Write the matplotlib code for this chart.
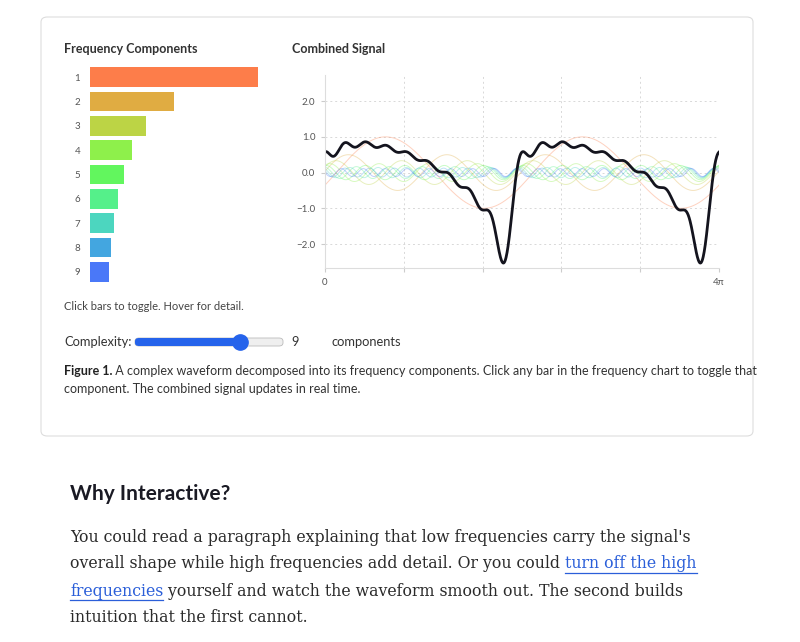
import numpy as np
import matplotlib
matplotlib.use("Agg")
import matplotlib.pyplot as plt
from matplotlib.patches import FancyBboxPatch
from matplotlib.lines import Line2D

components = [1, 2, 3, 4, 5, 6, 7, 8, 9]
amplitudes = [1.0, 0.5, 0.333, 0.25, 0.2, 0.167, 0.143, 0.125, 0.111]
# phase of each harmonic, radians
phases = [-0.36, 0.08, 0.52, 0.96, 1.40, 1.84, 2.28, 2.72, 3.16]
colors = ["#fd7d4a", "#e0ac42", "#bcd445", "#8ef04b", "#62f65e",
          "#55f08a", "#4cd6bf", "#43a6e0", "#4a78f8"]
y_ticks = [-2.0, -1.0, 0.0, 1.0, 2.0]
y_labels = ["\u22122.0", "\u22121.0", "0.0", "1.0", "2.0"]

W, H = 800, 642
plt.rcParams['font.family'] = ['Lato', 'DejaVu Sans']
fig = plt.figure(figsize=(8, 6.42), dpi=100)
renderer = fig.canvas.get_renderer()

def fx(x): return x / W
def fy(y): return 1 - y / H

def chain(x, y, parts):
    # draw text pieces one after another on a line, px coords
    for s, kw, underline in parts:
        t = fig.text(fx(x), fy(y), s, va="center", **kw)
        bb = t.get_window_extent(renderer)
        if underline:
            fig.add_artist(Line2D([fx(x), fx(x + bb.width)], [fy(y + 9), fy(y + 9)],
                                  color=kw["color"], lw=0.9, transform=fig.transFigure))
        x += bb.width

# card
fig.patches.append(FancyBboxPatch((fx(41), fy(436)), fx(712), 419 / H,
                                  boxstyle="round,pad=0,rounding_size=0.008",
                                  transform=fig.transFigure, fc="white",
                                  ec="#dddddd", lw=0.8, zorder=-5))

# bars
ax1 = fig.add_axes([fx(90), fy(284), 168 / W, 219 / H])
ax1.barh(components, amplitudes, height=0.8, color=colors)
ax1.set_xlim(0, 1)
ax1.set_ylim(9.5, 0.5)
ax1.set_yticks(components)
ax1.set_yticklabels([str(c) for c in components], fontsize=7, color="#555")
ax1.tick_params(axis="y", length=0, pad=7)
ax1.set_xticks([])
ax1.patch.set_alpha(0)
for s in ax1.spines.values():
    s.set_visible(False)

# signal
ax2 = fig.add_axes([fx(325), fy(268), 394 / W, 193 / H])
ax2.patch.set_alpha(0)
x = np.linspace(0, 4 * np.pi, 1200)
total = np.zeros_like(x)
for n, a, p, c in zip(components, amplitudes, phases, colors):
    wave = a * np.sin(n * x + p)
    total += wave
    ax2.plot(x, wave, color=c, lw=0.7, alpha=0.35)
ax2.plot(x, total, color="#14141e", lw=2.0)
ax2.set_xlim(0, 4 * np.pi)
ax2.set_ylim(-2.67, 2.73)
ax2.set_yticks(y_ticks)
ax2.set_yticklabels(y_labels, fontsize=7, color="#555")
ax2.set_xticks(np.linspace(0, 4 * np.pi, 6))
ax2.set_xticklabels(["0", "", "", "", "", "4\u03c0"], fontsize=7, color="#555")
ax2.grid(True, ls=(0, (2, 3)), color="#d8d8d8", lw=0.7)
ax2.tick_params(length=3, color="#ccc", pad=4)
for k in ["top", "right"]:
    ax2.spines[k].set_visible(False)
for k in ["left", "bottom"]:
    ax2.spines[k].set_color("#dddddd")

fig.text(fx(64), fy(49), "Frequency Components", fontsize=9, weight="bold", color="#333", va="center")
fig.text(fx(292), fy(49), "Combined Signal", fontsize=9, weight="bold", color="#333", va="center")
fig.text(fx(64), fy(307), "Click bars to toggle. Hover for detail.", fontsize=8, color="#444", va="center")

# slider
fig.text(fx(64), fy(342), "Complexity:", fontsize=9.3, color="#333", va="center")
fig.patches.append(FancyBboxPatch((fx(135), fy(346)), fx(148), 8 / H,
                                  boxstyle="round,pad=0,rounding_size=0.005",
                                  transform=fig.transFigure, fc="#efefef", ec="#bbbbbb", lw=0.6))
fig.patches.append(FancyBboxPatch((fx(135), fy(346)), fx(105), 8 / H,
                                  boxstyle="round,pad=0,rounding_size=0.005",
                                  transform=fig.transFigure, fc="#2563eb", ec="none"))
fig.add_artist(Line2D([fx(240)], [fy(342)], marker="o", ms=11, color="#2563eb",
                      transform=fig.transFigure))
fig.text(fx(291), fy(342), "9", fontsize=9.3, color="#333", va="center")
fig.text(fx(331), fy(342), "components", fontsize=9.3, color="#333", va="center")

cap = dict(fontsize=9.0, color="#333")
chain(64, 371, [("Figure 1.", dict(cap, weight="bold", color="#222"), False),
                (" A complex waveform decomposed into its frequency components. Click any bar in the frequency chart to toggle that", cap, False)])
fig.text(fx(64), fy(389), "component. The combined signal updates in real time.", va="center", **cap)

fig.text(fx(70), fy(494), "Why Interactive?", fontsize=15, weight="bold", color="#1a1a24", va="center")

serif = ["DejaVu Serif"]
body = dict(fontsize=11.3, color="#2a2a2a", family=serif)
link = dict(fontsize=11.3, color="#2b5fd9", family=serif)
chain(70, 537, [("You could read a paragraph explaining that low frequencies carry the signal's", body, False)])
chain(70, 564, [("overall shape while high frequencies add detail. Or you could ", body, False),
                ("turn off the high", link, True)])
chain(70, 591, [("frequencies", link, True),
                (" yourself and watch the waveform smooth out. The second builds", body, False)])
chain(70, 617, [("intuition that the first cannot.", body, False)])

fig.savefig("out.png", dpi=100)
